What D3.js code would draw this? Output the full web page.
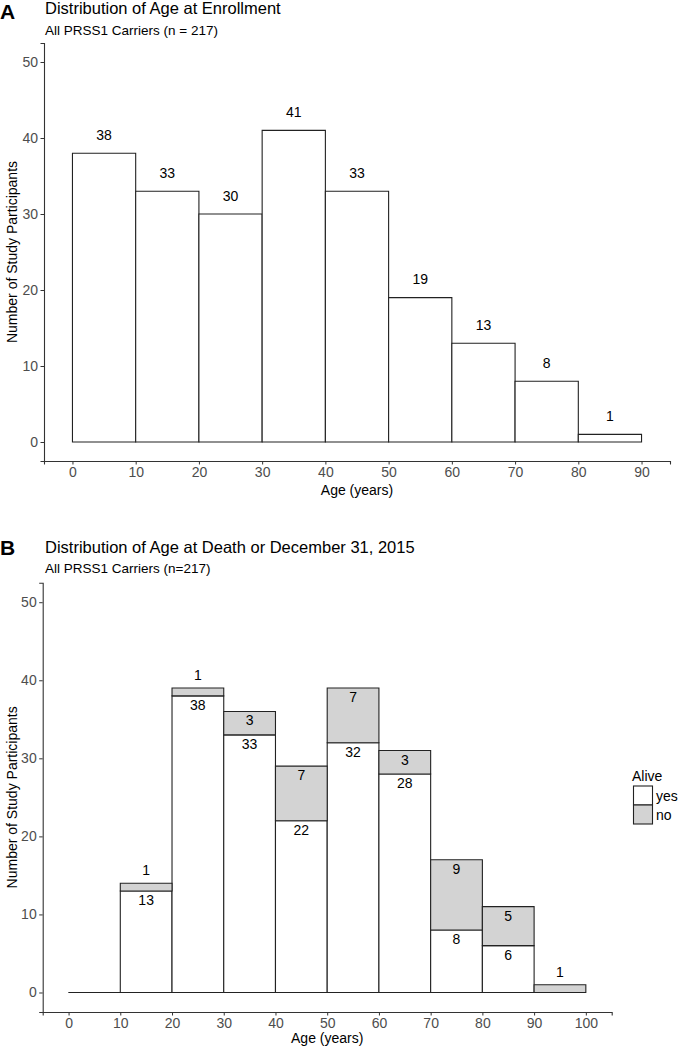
<!DOCTYPE html>
<html><head><meta charset="utf-8">
<script src="https://cdn.jsdelivr.net/npm/d3@7"></script>
<style>body{margin:0;background:#fff}svg{display:block;font-family:"Liberation Sans",Arial,sans-serif}</style>
</head><body>
<script>
// Panel A data
const binStartA = [0,10,20,30,40,50,60,70,80];
const countsA = [38,33,30,41,33,19,13,8,1];
const xTicksA = [0,10,20,30,40,50,60,70,80,90];
// Panel B data
const binStartB = [0,10,20,30,40,50,60,70,80,90];
const aliveYes = [0,13,38,33,22,32,28,8,6,0];
const aliveNo  = [0,1,1,3,7,7,3,9,5,1];
const xTicksB = [0,10,20,30,40,50,60,70,80,90,100];
const yTicks = [0,10,20,30,40,50];
const legendKeys = ["yes","no"];
const fills = {yes:"#ffffff", no:"#d3d3d3"};

const W=679,H=1050;
const svg=d3.select("body").append("svg").attr("width",W).attr("height",H);

function rectPath(x0,x1,y0,y1){return `M${x0},${y0}H${x1}V${y1}H${x0}Z`;}

function axes(g,x,y,xt,yt,xTitleY,yTitleX){
  const xa=g.append("g").attr("transform",`translate(0,${y.range()[0]})`)
    .call(d3.axisBottom(x).tickValues(xt).tickSize(3.5).tickPadding(2.5).tickFormat(d3.format("d")));
  const ya=g.append("g").attr("transform",`translate(${x.range()[0]},0)`)
    .call(d3.axisLeft(y).tickValues(yt).tickSize(3.5).tickPadding(2.5).tickFormat(d3.format("d")));
  [xa,ya].forEach(a=>{
    a.select(".domain").attr("stroke","#333").attr("stroke-width",1.1);
    a.selectAll(".tick line").attr("stroke","#333");
    a.selectAll(".tick text").attr("fill","#4d4d4d").style("font-size","14px").style("font-family","Liberation Sans, Arial, sans-serif");
  });
  const [r0,r1]=x.range(), [b,t]=y.range();
  g.append("text").attr("x",(r0+r1)/2).attr("y",xTitleY).attr("text-anchor","middle")
    .style("font-size","14px").text("Age (years)");
  g.append("text").attr("transform",`translate(${yTitleX},${(b+t)/2}) rotate(-90)`)
    .attr("text-anchor","middle").attr("dominant-baseline","central")
    .style("font-size","14px").text("Number of Study Participants");
}

// ---------- Panel A ----------
const gA=svg.append("g");
const xA=d3.scaleLinear().domain([-4.5,94.5]).range([44,670]);
const yA=d3.scaleLinear().domain([-2.5,52.5]).range([461,43]);
gA.selectAll("path.bar").data(countsA).join("path").attr("class","bar")
  .attr("d",(d,i)=>rectPath(xA(binStartA[i]),xA(binStartA[i]+10),yA(0),yA(d)))
  .attr("fill","#fff").attr("stroke","#222").attr("stroke-width",1.1);
gA.selectAll("text.lab").data(countsA).join("text").attr("class","lab")
  .attr("x",(d,i)=>xA(binStartA[i]+5)).attr("y",d=>yA(d)-18.5)
  .attr("text-anchor","middle").attr("dominant-baseline","central")
  .style("font-size","14px").text(d=>d);
axes(gA,xA,yA,xTicksA,yTicks,495,12);
svg.append("text").attr("x",0).attr("y",19).style("font-size","21px").style("font-weight","bold").text("A");
svg.append("text").attr("x",45).attr("y",14).style("font-size","16.5px").text("Distribution of Age at Enrollment");
svg.append("text").attr("x",45).attr("y",34.5).style("font-size","13.5px").text("All PRSS1 Carriers (n = 217)");

// ---------- Panel B ----------
const gB=svg.append("g");
const xB=d3.scaleLinear().domain([-5,105]).range([42.7,611.7]);
const yB=d3.scaleLinear().domain([-2.5,52.5]).range([1012,582.7]);
gB.selectAll("path.yes").data(aliveYes).join("path").attr("class","yes")
  .attr("d",(d,i)=>rectPath(xB(binStartB[i]),xB(binStartB[i]+10),yB(0),yB(d)))
  .attr("fill",fills.yes).attr("stroke","#222").attr("stroke-width",1.1);
gB.selectAll("path.no").data(aliveNo).join("path").attr("class","no")
  .attr("d",(d,i)=>rectPath(xB(binStartB[i]),xB(binStartB[i]+10),yB(aliveYes[i]),yB(aliveYes[i]+d)))
  .attr("fill",fills.no).attr("stroke","#222").attr("stroke-width",1.1);
aliveYes.forEach((d,i)=>{ if(d>0){
  gB.append("text").attr("x",xB(binStartB[i]+5)).attr("y",yB(d)+9)
   .attr("text-anchor","middle").attr("dominant-baseline","central").style("font-size","14px").text(d);
}});
aliveNo.forEach((d,i)=>{ if(d>0){
  const top=yB(aliveYes[i]+d);
  const yy = d===1 ? top-13 : top+9;
  gB.append("text").attr("x",xB(binStartB[i]+5)).attr("y",yy)
   .attr("text-anchor","middle").attr("dominant-baseline","central").style("font-size","14px").text(d);
}});
axes(gB,xB,yB,xTicksB,yTicks,1043,12);
svg.append("text").attr("x",0).attr("y",555).style("font-size","21px").style("font-weight","bold").text("B");
svg.append("text").attr("x",45).attr("y",553).style("font-size","16.5px").text("Distribution of Age at Death or December 31, 2015");
svg.append("text").attr("x",45).attr("y",573).style("font-size","13.5px").text("All PRSS1 Carriers (n=217)");

// Legend
const lg=svg.append("g");
lg.append("text").attr("x",632).attr("y",776).attr("dominant-baseline","central").style("font-size","14px").text("Alive");
legendKeys.forEach((k,i)=>{
  lg.append("rect").attr("x",633.5).attr("y",786+i*19).attr("width",19).attr("height",19)
    .attr("fill",fills[k]).attr("stroke","#222").attr("stroke-width",1.1);
  lg.append("text").attr("x",656).attr("y",795.5+i*19).attr("dominant-baseline","central").style("font-size","14px").text(k);
});
</script>
</body></html>
